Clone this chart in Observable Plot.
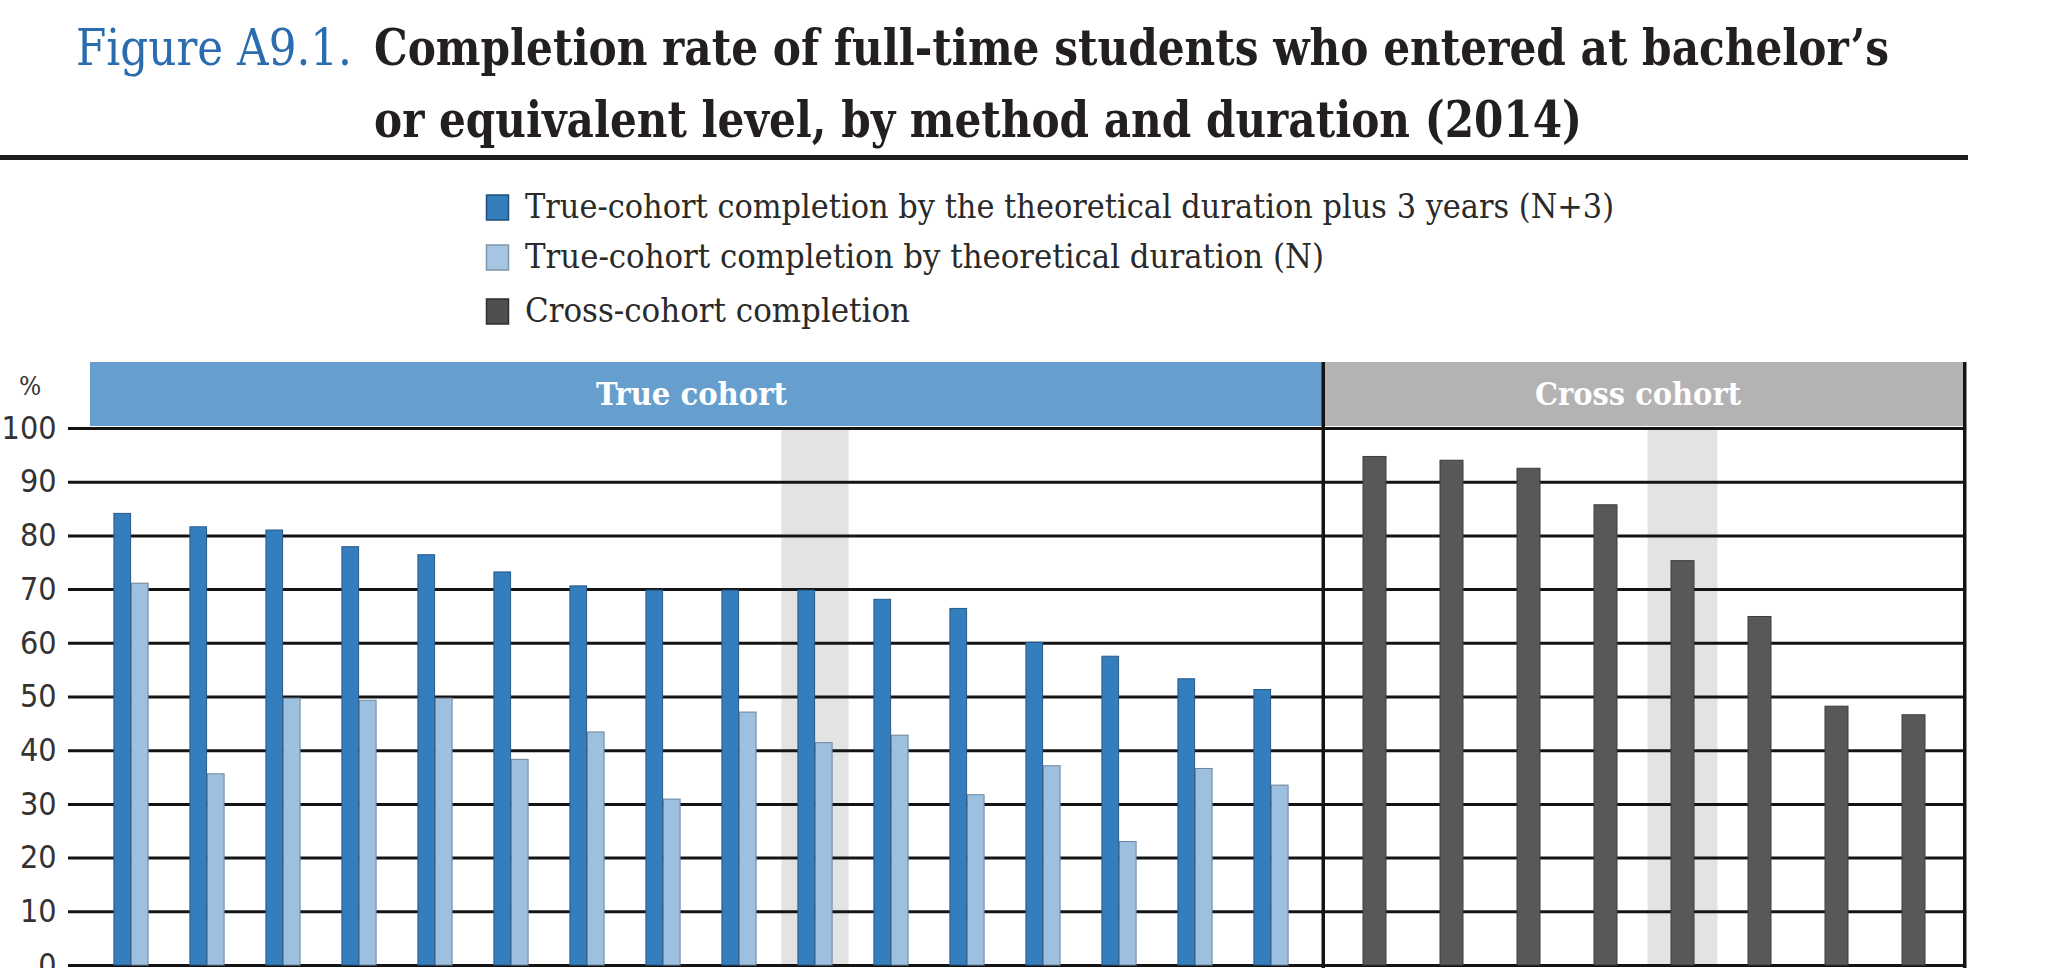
<!DOCTYPE html>
<html>
<head>
<meta charset="utf-8">
<script src="https://cdn.jsdelivr.net/npm/d3@7"></script>
<script src="https://cdn.jsdelivr.net/npm/@observablehq/plot@0.6"></script>
<style>
  html, body { margin: 0; padding: 0; background: #fff; overflow: hidden; }
  #page { position: relative; width: 2058px; height: 968px; overflow: hidden; background: #fff; }
  #page > * { position: absolute; }
  svg.plot text { font-stretch: condensed; }
</style>
</head>
<body>
<div id="page"></div>
<script>
// ---------------- data ----------------
const trueGroups = ["TC01","TC02","TC03","TC04","TC05","TC06","TC07","TC08","TC09",
                    "True-cohort average","TC11","TC12","TC13","TC14","TC15","TC16"];
const nPlus3       = [84.1, 81.6, 81.0, 77.9, 76.4, 73.2, 70.6, 69.8, 69.8, 69.8, 68.1, 66.4, 60.1, 57.5, 53.3, 51.3];
const nTheoretical = [71.1, 35.6, 49.7, 49.3, 49.7, 38.3, 43.4, 30.9, 47.1, 41.4, 42.8, 31.7, 37.1, 23.0, 36.6, 33.5];

const crossGroups = ["CC1","CC2","CC3","CC4","Cross-cohort average","CC6","CC7","CC8"];
const crossValues = [94.7, 94.0, 92.5, 85.7, 75.3, 64.9, 48.2, 46.6];

const highlightTrue  = ["True-cohort average"];
const highlightCross = ["Cross-cohort average"];

const yTicks = [0, 10, 20, 30, 40, 50, 60, 70, 80, 90, 100];
const yUnit = "%";

const figureNumber = "Figure A9.1.";
const titleLines = ["Completion rate of full-time students who entered at bachelor\u2019s",
                    "or equivalent level, by method and duration (2014)"];
const seriesLabels = ["True-cohort completion by the theoretical duration plus 3 years (N+3)",
                      "True-cohort completion by theoretical duration (N)",
                      "Cross-cohort completion"];
const panelLabels = ["True cohort", "Cross cohort"];

// ---------------- styles ----------------
const SERIF = '"DejaVu Serif Condensed", "DejaVu Serif", serif';
const SANS = '"DejaVu Sans Condensed", "DejaVu Sans", sans-serif';
const COL = {
  dark: "#347ebd", darkStroke: "#27598a",
  light: "#9dc0e0", lightStroke: "#6c8499",
  cross: "#585856", crossStroke: "#3c3c3a",
  hl: "#e3e3e3", grid: "#141414",
  bandBlue: "#669fce", bandGray: "#b3b3b3"
};
const GRID_W = 3;

const page = document.getElementById("page");
const yMax = d3.max(yTicks);
const Y_TOP = 428, Y_ZERO = 965, SVG_TOP = 418;
const MT = Y_TOP - SVG_TOP, MB = 40;
const PH = MT + (Y_ZERO - Y_TOP) + MB;

// ---------------- panel 1 : true cohort ----------------
const W1 = 1323, ML1 = 86, MR1 = 8;
const step1 = (W1 - ML1 - MR1) / trueGroups.length;
const bar1 = 17.5, hl1 = 68;
const trueRows = trueGroups.map((g, i) => ({group: g, n3: nPlus3[i], n: nTheoretical[i]}));

const plot1 = Plot.plot({
  width: W1, height: PH,
  marginTop: MT, marginBottom: MB, marginLeft: ML1, marginRight: MR1,
  style: {background: "transparent", overflow: "visible", fontFamily: SANS, fontSize: "32px"},
  x: {domain: trueGroups, padding: 0, axis: null},
  y: {domain: [0, yMax], axis: null},
  marks: [
    Plot.barY(highlightTrue, {x: d => d, y1: 0, y2: yMax, fill: COL.hl,
      insetLeft: (step1 - hl1) / 2, insetRight: (step1 - hl1) / 2}),
    Plot.ruleY(yTicks, {stroke: COL.grid, strokeWidth: GRID_W, insetLeft: -18, insetRight: -MR1}),
    Plot.barY(trueRows, {x: "group", y: "n3", fill: COL.dark, stroke: COL.darkStroke, strokeWidth: 1,
      insetLeft: step1 / 2 - bar1, insetRight: step1 / 2}),
    Plot.barY(trueRows, {x: "group", y: "n", fill: COL.light, stroke: COL.lightStroke, strokeWidth: 1,
      insetLeft: step1 / 2, insetRight: step1 / 2 - bar1}),
    Plot.axisY({ticks: yTicks, tickSize: 0, tickPadding: 30, fontSize: 32, fontFamily: SANS,
      color: "#333", label: null})
  ]
});
plot1.style.left = "0px";
plot1.style.top = SVG_TOP + "px";
page.appendChild(plot1);

// ---------------- panel 2 : cross cohort ----------------
const X2 = 1323, W2 = 645, ML2 = 13, MR2 = 16;
const step2 = (W2 - ML2 - MR2) / crossGroups.length;
const bar2 = 23, hl2 = 70;
const crossRows = crossGroups.map((g, i) => ({group: g, value: crossValues[i]}));

const plot2 = Plot.plot({
  width: W2, height: PH,
  marginTop: MT, marginBottom: MB, marginLeft: ML2, marginRight: MR2,
  style: {background: "transparent", overflow: "visible", fontFamily: SANS},
  x: {domain: crossGroups, padding: 0, axis: null},
  y: {domain: [0, yMax], axis: null},
  marks: [
    Plot.barY(highlightCross, {x: d => d, y1: 0, y2: yMax, fill: COL.hl,
      insetLeft: (step2 - hl2) / 2, insetRight: (step2 - hl2) / 2}),
    Plot.ruleY(yTicks, {stroke: COL.grid, strokeWidth: GRID_W, insetLeft: -ML2, insetRight: -(MR2 - 3)}),
    Plot.barY(crossRows, {x: "group", y: "value", fill: COL.cross, stroke: COL.crossStroke, strokeWidth: 1,
      insetLeft: (step2 - bar2) / 2, insetRight: (step2 - bar2) / 2})
  ]
});
plot2.style.left = X2 + "px";
plot2.style.top = SVG_TOP + "px";
page.appendChild(plot2);

// ---------------- overlay: title, legend, panel headers ----------------
const legendFills = [[COL.dark, "#1f4f7a"], ["#a6c6e3", "#7f95aa"], ["#4f4f4f", "#2e2e2e"]];
const legendBase = [218, 268, 322];
const legendEnds = [1614, 1324, 910];

let s = `<svg xmlns="http://www.w3.org/2000/svg" width="2058" height="968" style="pointer-events:none">`;
s += `<text x="76" y="65" font-family='${SERIF}' font-size="50" fill="#2a6caf" textLength="276" lengthAdjust="spacingAndGlyphs">${figureNumber}</text>`;
s += `<text x="374" y="65" font-family='${SERIF}' font-weight="bold" font-size="51" fill="#231f20" textLength="1515" lengthAdjust="spacingAndGlyphs">${titleLines[0]}</text>`;
s += `<text x="374" y="137" font-family='${SERIF}' font-weight="bold" font-size="51" fill="#231f20" textLength="1208" lengthAdjust="spacingAndGlyphs">${titleLines[1]}</text>`;
s += `<rect x="0" y="155" width="1968" height="5" fill="#1c1c1c"/>`;
seriesLabels.forEach((t, i) => {
  s += `<rect x="486.5" y="${legendBase[i] - 23}" width="22" height="25" fill="${legendFills[i][0]}" stroke="${legendFills[i][1]}" stroke-width="1.5"/>`;
  s += `<text x="525" y="${legendBase[i]}" font-family='${SERIF}' font-size="33" fill="#2a2a2a" textLength="${legendEnds[i] - 525}" lengthAdjust="spacingAndGlyphs">${t}</text>`;
});
s += `<text x="30" y="395" text-anchor="middle" font-family='${SERIF}' font-size="26" fill="#333">${yUnit}</text>`;
// panel headers
s += `<rect x="90" y="362" width="1232" height="64" fill="${COL.bandBlue}"/>`;
s += `<rect x="1324" y="362" width="640" height="64" fill="${COL.bandGray}"/>`;
s += `<text x="596" y="405" font-family='${SERIF}' font-weight="bold" font-size="31" fill="#fff" textLength="191" lengthAdjust="spacingAndGlyphs">${panelLabels[0]}</text>`;
s += `<text x="1535" y="405" font-family='${SERIF}' font-weight="bold" font-size="31" fill="#fff" textLength="206" lengthAdjust="spacingAndGlyphs">${panelLabels[1]}</text>`;
// divider + right border
s += `<rect x="1321.5" y="362" width="3.5" height="610" fill="#141414"/>`;
s += `<rect x="1963" y="362" width="3.5" height="610" fill="#141414"/>`;
s += `</svg>`;

const overlay = document.createElement("div");
overlay.style.left = "0px";
overlay.style.top = "0px";
overlay.innerHTML = s;
page.appendChild(overlay);
</script>
</body>
</html>
